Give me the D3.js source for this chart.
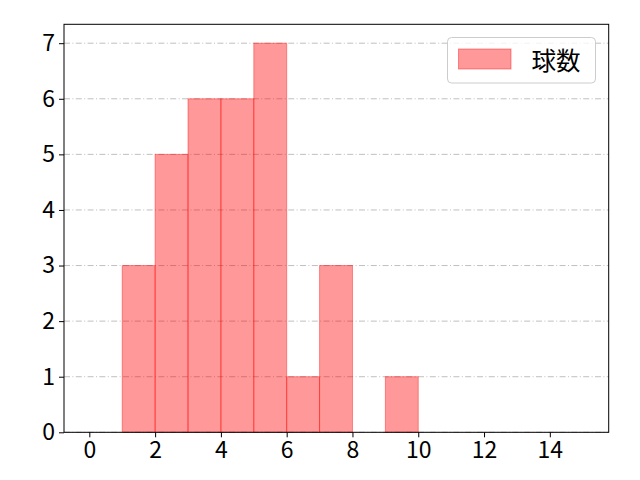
<!DOCTYPE html>
<html>
<head>
<meta charset="utf-8">
<script src="https://cdn.jsdelivr.net/npm/d3@7"></script>
<style>
  body { margin: 0; background: #fff; }
  text { font-family: "Noto Sans CJK JP", "Noto Sans", sans-serif; }
</style>
</head>
<body>
<div class="canvas"></div>
<script>
// histogram bins (left edge, right edge) and counts
const binStarts = [1, 2, 3, 4, 5, 6, 7, 8, 9];
const counts = [3, 5, 6, 6, 7, 1, 3, 0, 1];
const xTicks = [0, 2, 4, 6, 8, 10, 12, 14];
const yTicks = [0, 1, 2, 3, 4, 5, 6, 7];
const seriesName = '球数';

const svg = d3.select('.canvas')
  .append('svg')
    .attr('width', 640)
    .attr('height', 480);

const margin = {top: 24.3, bottom: 47.7, left: 64, right: 31.3};
const width = 640 - margin.left - margin.right;
const height = 480 - margin.top - margin.bottom;

const graph = svg.append('g')
  .attr('transform', `translate(${margin.left}, ${margin.top})`);

const x = d3.scaleLinear().domain([-0.77, 15.79]).range([0, width]);
const y = d3.scaleLinear().domain([0, 7.34]).range([height, 0]);

// grid lines, dash-dot
graph.append('g')
  .selectAll('line')
  .data(yTicks)
  .enter()
  .append('line')
    .attr('x1', 0)
    .attr('x2', width)
    .attr('y1', d => y(d))
    .attr('y2', d => y(d))
    .attr('stroke', '#b0b0b0')
    .attr('stroke-width', 0.8)
    .attr('stroke-dasharray', '6,2.4,1,2.4');

// bars
graph.append('g')
  .selectAll('rect')
  .data(binStarts.map((b, i) => ({start: b, count: counts[i]})).filter(d => d.count > 0))
  .enter()
  .append('rect')
    .attr('x', d => x(d.start))
    .attr('width', d => x(d.start + 1) - x(d.start))
    .attr('y', d => y(d.count))
    .attr('height', d => height - y(d.count))
    .attr('fill', 'red')
    .attr('fill-opacity', 0.4)
    .attr('stroke', 'red')
    .attr('stroke-opacity', 0.4)
    .attr('stroke-width', 1);

// axes
const xAxis = d3.axisBottom(x).tickValues(xTicks).tickSize(5).tickPadding(4).tickFormat(d3.format('d'));
const yAxis = d3.axisLeft(y).tickValues(yTicks).tickSize(5).tickPadding(4).tickFormat(d3.format('d'));

const xGroup = graph.append('g')
  .attr('transform', `translate(0, ${height})`)
  .call(xAxis);
const yGroup = graph.append('g').call(yAxis);

[xGroup, yGroup].forEach(g => {
  g.select('.domain').remove();
  g.selectAll('line').attr('stroke', '#000').attr('stroke-width', 1);
  g.selectAll('text').attr('font-size', 23).attr('fill', '#000')
    .style('font-family', '"Noto Sans CJK JP", sans-serif');
});

// frame
graph.append('rect')
  .attr('width', width)
  .attr('height', height)
  .attr('fill', 'none')
  .attr('stroke', '#000')
  .attr('stroke-width', 1);

// legend
const legend = svg.append('g').attr('transform', 'translate(447.5, 37.5)');
legend.append('rect')
  .attr('width', 148)
  .attr('height', 45.5)
  .attr('rx', 4)
  .attr('fill', '#fff')
  .attr('fill-opacity', 0.8)
  .attr('stroke', '#cccccc')
  .attr('stroke-width', 1);
legend.append('rect')
  .attr('x', 11)
  .attr('y', 11.5)
  .attr('width', 52.5)
  .attr('height', 20)
  .attr('fill', 'red')
  .attr('fill-opacity', 0.4)
  .attr('stroke', 'red')
  .attr('stroke-opacity', 0.4);
legend.append('text')
  .attr('x', 84)
  .attr('y', 22)
  .attr('dominant-baseline', 'central')
  .attr('font-size', 24.5)
  .text(seriesName);
</script>
</body>
</html>
